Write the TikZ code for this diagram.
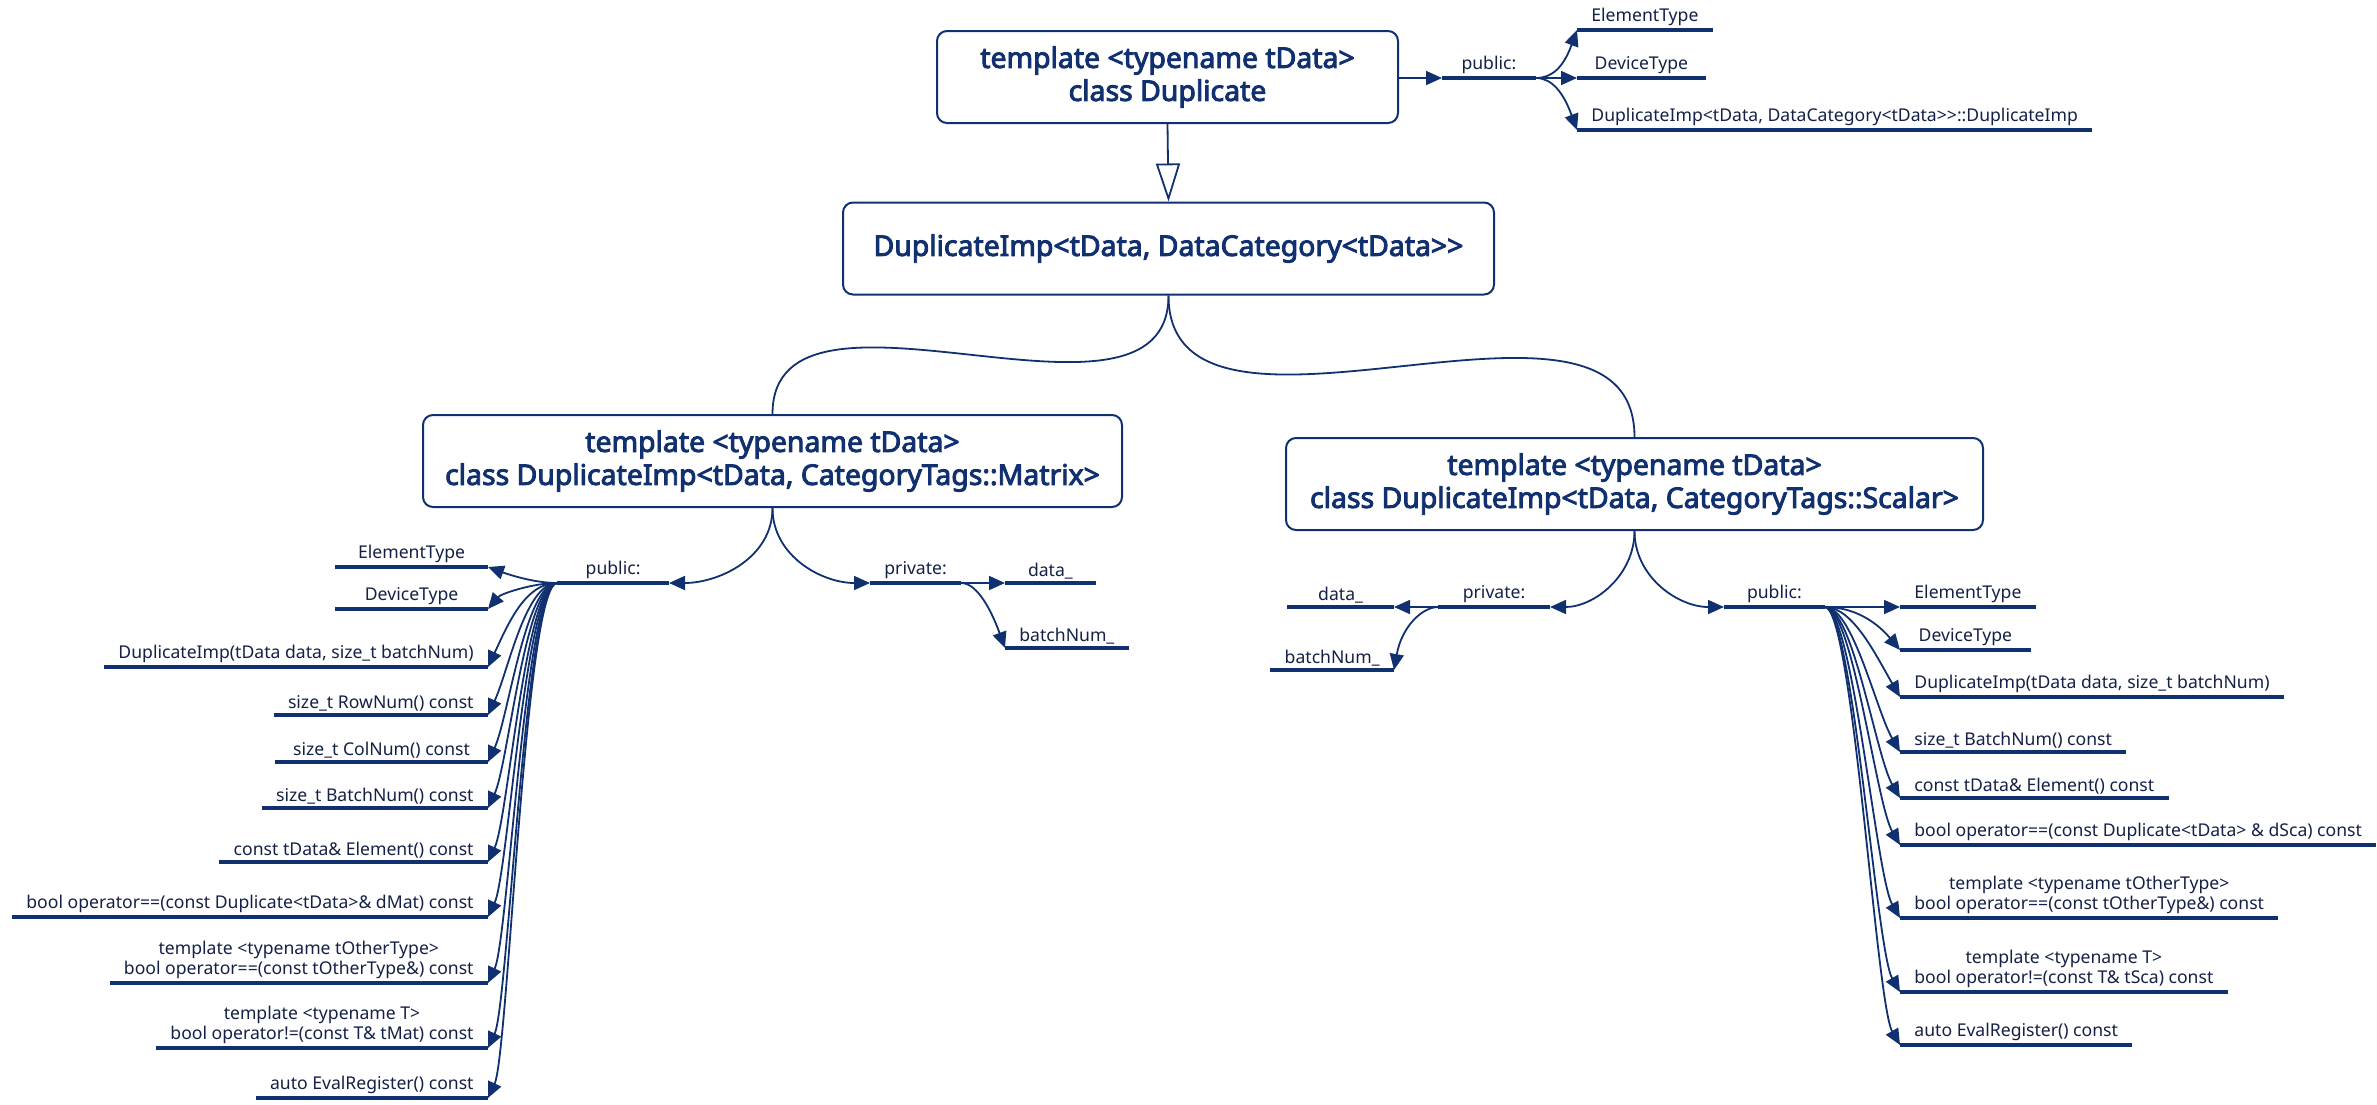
\documentclass[tikz,border=0pt]{standalone}
\usepackage{fontspec}
\setmainfont{Noto Sans}
\newfontfamily\titlefont{Noto Sans}[FakeBold=3.2]
\usepackage{tikz}
\usetikzlibrary{arrows.meta,positioning}
\definecolor{navy}{RGB}{16,48,112}
\definecolor{ink}{RGB}{20,32,70}

\begin{document}
\begin{tikzpicture}[x=0.5pt,y=0.5pt,>={Triangle[length=8pt,width=7pt]}]
\tikzstyle{cls}=[rectangle, draw=navy, line width=1pt, fill=white, rounded corners=5pt, text=navy, align=center, minimum height=46pt, font=\titlefont\fontsize{14.2}{16.5}\selectfont]
\tikzstyle{uline}=[draw=navy, line width=2.4pt, -]
\tikzstyle{leaf}=[inner xsep=7pt, inner ysep=1.8pt, text=ink, align=center,
                                font=\fontsize{8.8}{10.2}\selectfont,
                                append after command={(\tikzlastnode.south west) edge[uline] (\tikzlastnode.south east)}]
\tikzstyle{link}=[draw=navy, line width=0.9pt]
\tikzstyle{conn}=[link, ->]
\tikzstyle{fan}=[->, navy, line width=0.9pt]
\useasboundingbox (0,0) rectangle (2377,-1104);
% classes
\node[cls, minimum width=230.5pt] (dup) at (1167.5,-77) {template <typename tData>\\class Duplicate};
\node[cls, minimum width=325.5pt] (imp) at (1168.5,-248.5) {DuplicateImp<tData, DataCategory<tData>{}>};
\node[cls, minimum width=349.5pt] (mat) at (772.5,-461) {template <typename tData>\\class DuplicateImp<tData, CategoryTags::Matrix>};
\node[cls, minimum width=348.5pt] (sca) at (1634.5,-484) {template <typename tData>\\class DuplicateImp<tData, CategoryTags::Scalar>};
\draw[link, -{Triangle[open,length=19pt,width=12pt]}] (dup.south) -- (imp.north);
\draw[link] (imp.south) to[out=-90,in=90] (mat.north);
\draw[link] (imp.south) to[out=-90,in=90] (sca.north);
% Duplicate
\node[leaf, minimum width=46.5pt, anchor=south west] (pub0) at (1442,-78) {public:};
\node[leaf, minimum width=64pt, anchor=south west] (et0) at (1577,-30) {ElementType};
\node[leaf, minimum width=64pt, anchor=south west] (dt0) at (1577,-78) {DeviceType};
\node[leaf, anchor=south west] (ctor0) at (1577,-130) {DuplicateImp<tData, DataCategory<tData>{}>::DuplicateImp};
\draw[conn] (dup.east |- pub0.south west) -- (pub0.south west);
\path[fan] (pub0.south east) edge[out=0,in=-110,out distance=8pt,in distance=20pt] (et0.south west)
                    edge (dt0.south west)
                    edge[out=0,in=110,out distance=8pt,in distance=20pt] (ctor0.south west);
% Matrix
\node[leaf, minimum width=55.5pt, anchor=south east] (pubL) at (669,-583) {public:};
\node[leaf, minimum width=45pt, anchor=south west] (privL) at (870,-583) {private:};
\draw[conn] (mat.south) to[out=-90,in=0] (pubL.south east);
\draw[conn] (mat.south) to[out=-90,in=180] (privL.south west);
\node[leaf, minimum width=45pt, anchor=south west] (dataL) at (1005,-583) {data\_};
\node[leaf, anchor=south west] (bnL) at (1005,-648) {batchNum\_};
\path[fan] (privL.south east) edge (dataL.south west)
                    edge[out=0,in=110,out distance=8pt,in distance=20pt] (bnL.south west);
\node[leaf, minimum width=76pt, anchor=south east] (etL) at (488,-567) {ElementType};
\node[leaf, minimum width=76pt, anchor=south east] (dtL) at (488,-609) {DeviceType};
\node[leaf, anchor=south east] (ctorL) at (488,-667) {DuplicateImp(tData data, size\_t batchNum)};
\node[leaf, minimum width=106pt, anchor=south east] (rowL) at (488,-715) {size\_t RowNum() const};
\node[leaf, minimum width=106pt, anchor=south east] (colL) at (488,-762) {size\_t ColNum() const};
\node[leaf, minimum width=106pt, anchor=south east] (bchL) at (488,-808) {size\_t BatchNum() const};
\node[leaf, anchor=south east] (elL) at (488,-862) {const tData\& Element() const};
\node[leaf, anchor=south east] (eqL) at (488,-917) {bool operator==(const Duplicate<tData>\& dMat) const};
\node[leaf, anchor=south east] (eqtL) at (488,-983) {template <typename tOtherType>\\bool operator==(const tOtherType\&) const};
\node[leaf, anchor=south east] (neL) at (488,-1048) {template <typename T>\\bool operator!=(const T\& tMat) const};
\node[leaf, anchor=south east] (evL) at (488,-1098) {auto EvalRegister() const};
\path[fan] (pubL.south west) edge[out=180,in=-20,out distance=12pt,in distance=10pt] (etL.south east)
                    edge[out=180,in=50,out distance=12pt,in distance=10pt] (dtL.south east)
                    edge[out=180,in=65,out distance=16pt,in distance=24pt] (ctorL.south east)
                    edge[out=180,in=65,out distance=16pt,in distance=24pt] (rowL.south east)
                    edge[out=180,in=65,out distance=16pt,in distance=24pt] (colL.south east)
                    edge[out=180,in=65,out distance=16pt,in distance=24pt] (bchL.south east)
                    edge[out=180,in=65,out distance=16pt,in distance=24pt] (elL.south east)
                    edge[out=180,in=65,out distance=16pt,in distance=24pt] (eqL.south east)
                    edge[out=180,in=65,out distance=16pt,in distance=24pt] (eqtL.south east)
                    edge[out=180,in=65,out distance=16pt,in distance=24pt] (neL.south east)
                    edge[out=180,in=65,out distance=16pt,in distance=24pt] (evL.south east);
% Scalar
\node[leaf, minimum width=55.5pt, anchor=south east] (privR) at (1550,-607) {private:};
\node[leaf, minimum width=50pt, anchor=south west] (pubR) at (1724,-607) {public:};
\draw[conn] (sca.south) to[out=-90,in=0] (privR.south east);
\draw[conn] (sca.south) to[out=-90,in=180] (pubR.south west);
\node[leaf, minimum width=53pt, anchor=south east] (dataR) at (1394,-607) {data\_};
\node[leaf, minimum width=53pt, anchor=south east] (bnR) at (1394,-670) {batchNum\_};
\path[fan] (privR.south west) edge (dataR.south east)
                    edge[out=180,in=80,out distance=8pt,in distance=22pt] (bnR.south east);
\node[leaf, minimum width=65pt, anchor=south west] (etR) at (1900,-607) {ElementType};
\node[leaf, minimum width=65pt, anchor=south west] (dtR) at (1900,-650) {DeviceType};
\node[leaf, anchor=south west] (ctorR) at (1900,-697) {DuplicateImp(tData data, size\_t batchNum)};
\node[leaf, anchor=south west] (bchR) at (1900,-752) {size\_t BatchNum() const};
\node[leaf, anchor=south west] (elR) at (1900,-798) {const tData\& Element() const};
\node[leaf, anchor=south west] (eqR) at (1900,-845) {bool operator==(const Duplicate<tData> \& dSca) const};
\node[leaf, anchor=south west] (eqtR) at (1900,-918) {template <typename tOtherType>\\bool operator==(const tOtherType\&) const};
\node[leaf, anchor=south west] (neR) at (1900,-992) {template <typename T>\\bool operator!=(const T\& tSca) const};
\node[leaf, anchor=south west] (evR) at (1900,-1045) {auto EvalRegister() const};
\path[fan] (pubR.south east) edge (etR.south west)
                    edge[out=0,in=130,out distance=15pt,in distance=18pt] (dtR.south west)
                    edge[out=0,in=120,out distance=14pt,in distance=24pt] (ctorR.south west)
                    edge[out=0,in=120,out distance=14pt,in distance=24pt] (bchR.south west)
                    edge[out=0,in=120,out distance=14pt,in distance=24pt] (elR.south west)
                    edge[out=0,in=120,out distance=14pt,in distance=24pt] (eqR.south west)
                    edge[out=0,in=120,out distance=14pt,in distance=24pt] (eqtR.south west)
                    edge[out=0,in=120,out distance=14pt,in distance=24pt] (neR.south west)
                    edge[out=0,in=120,out distance=14pt,in distance=24pt] (evR.south west);
\end{tikzpicture}
\end{document}
